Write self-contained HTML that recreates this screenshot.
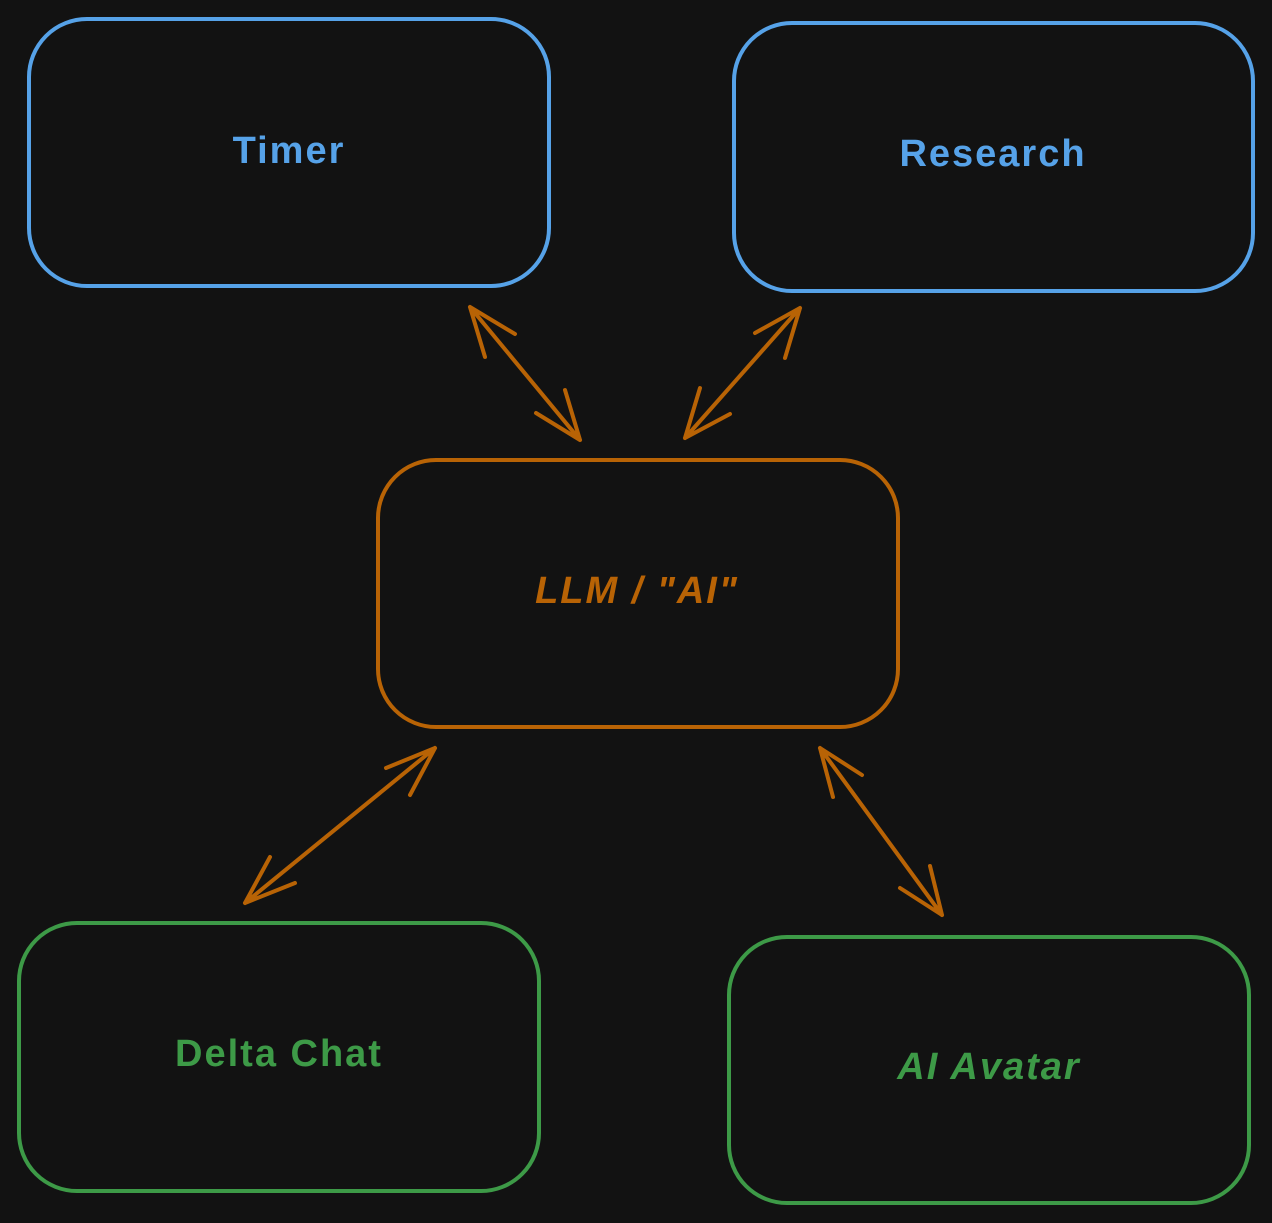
<!DOCTYPE html>
<html><head><meta charset="utf-8"><style>
html,body{margin:0;padding:0;background:#121212;}
svg{display:block}
text{font-family:"Liberation Sans",sans-serif;font-size:38px;text-anchor:middle;dominant-baseline:middle;letter-spacing:2px}
</style></head><body>
<svg width="1272" height="1223" viewBox="0 0 1272 1223" xmlns="http://www.w3.org/2000/svg">
<rect width="1272" height="1223" fill="#121212"/>
<g fill="none" stroke-width="4" stroke-linecap="round" stroke-linejoin="round">
<rect x="29" y="19" width="520" height="267" rx="58" stroke="#56a2e8"/>
<rect x="734" y="23" width="519" height="268" rx="58" stroke="#56a2e8"/>
<rect x="378" y="460" width="520" height="267" rx="58" stroke="#b86305"/>
<rect x="19" y="923" width="520" height="268" rx="58" stroke="#3d9a47"/>
<rect x="729" y="937" width="520" height="266" rx="58" stroke="#3d9a47"/>
<g stroke="#b86305">
<path d="M470 307 L580 440 M470 307 L485 357 M470 307 L515 334 M580 440 L565 390 M580 440 L536 413"/>
<path d="M800 308 L685 438 M800 308 L755 333 M800 308 L785 358 M685 438 L730 414 M685 438 L700 388"/>
<path d="M435 748 L245 903 M435 748 L386 768 M435 748 L410 795 M245 903 L295 883 M245 903 L270 857"/>
<path d="M820 748 L942 915 M820 748 L862 775 M820 748 L833 797 M942 915 L930 866 M942 915 L900 888"/>
</g>
</g>
<g font-weight="bold">
<text x="289" y="153" fill="#56a2e8">Timer</text>
<text x="993" y="156" fill="#56a2e8">Research</text>
<text x="637" y="593" fill="#b86305" font-style="italic">LLM / "AI"</text>
<text x="279" y="1056" fill="#3d9a47">Delta Chat</text>
<text x="989" y="1069" fill="#3d9a47" font-style="italic">AI Avatar</text>
</g>
</svg>
</body></html>
